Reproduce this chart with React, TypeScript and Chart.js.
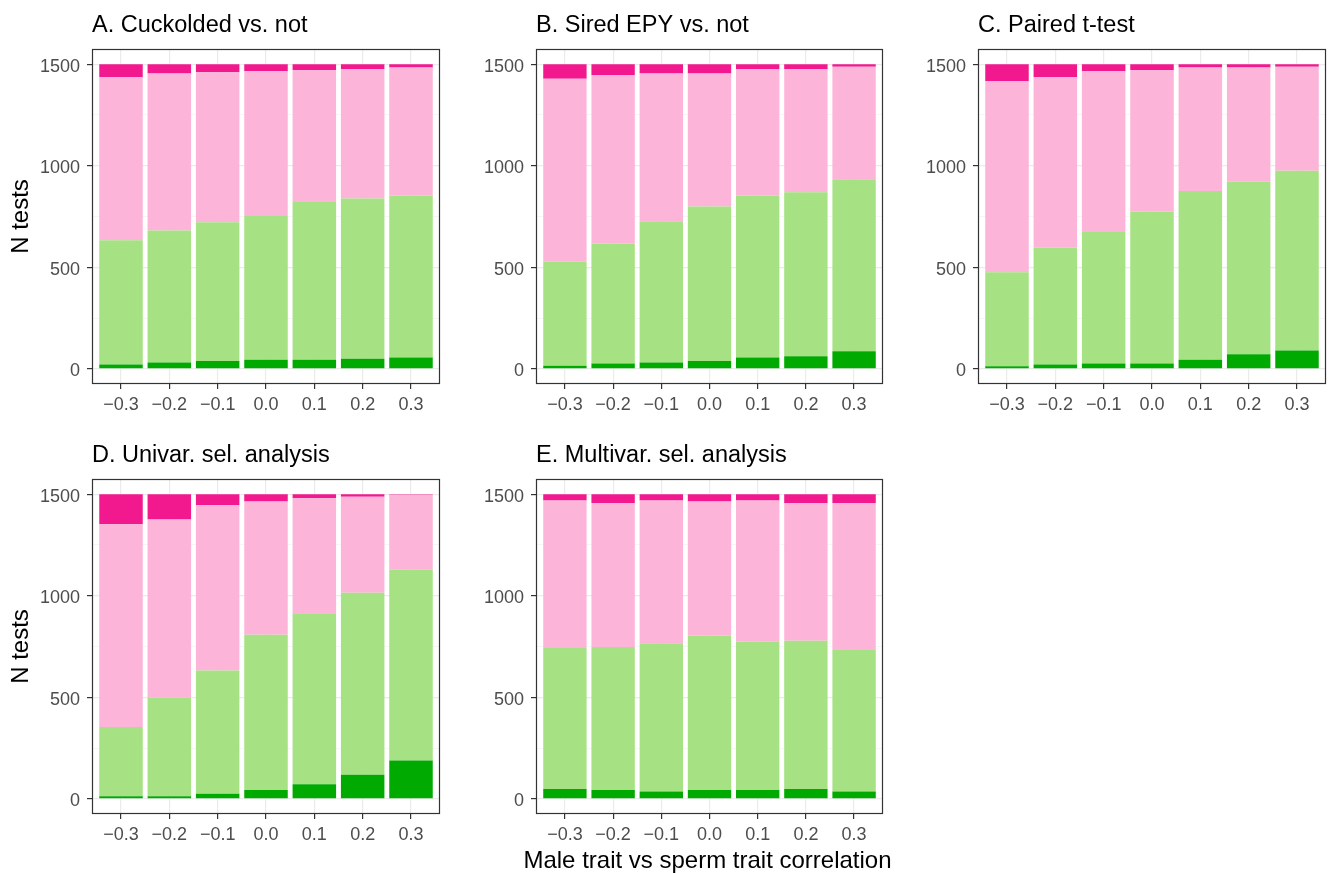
import React, { useEffect, useRef } from "react";
import { Chart, registerables } from "chart.js";

Chart.register(...registerables);

// ---------- data ----------
const corrLabels = ["\u22120.3", "\u22120.2", "\u22120.1", "0.0", "0.1", "0.2", "0.3"];
const yTickValues = [0, 250, 500, 750, 1000, 1250, 1500];
const seriesNames = ["Sig. positive", "N.s. positive", "N.s. negative", "Sig. negative"];
const seriesColors = ["#00AA00", "#A6E183", "#FDB4D9", "#F2188E"];
const xAxisTitle = "Male trait vs sperm trait correlation";
const yAxisTitle = "N tests";

// A. Cuckolded vs. not
const aSigPos = [21, 31, 38, 44, 44, 49, 56];
const aNsPos = [612, 650, 684, 708, 778, 790, 796];
const aNsNeg = [803, 773, 738, 713, 648, 638, 632];
const aSigNeg = [64, 46, 40, 35, 30, 23, 16];

// B. Sired EPY vs. not
const bSigPos = [15, 26, 31, 38, 56, 62, 86];
const bNsPos = [513, 591, 696, 761, 796, 808, 848];
const bNsNeg = [901, 830, 727, 655, 625, 607, 554];
const bSigNeg = [71, 53, 46, 46, 23, 23, 12];

// C. Paired t-test
const cSigPos = [13, 21, 26, 26, 44, 72, 90];
const cNsPos = [462, 576, 648, 749, 831, 851, 885];
const cNsNeg = [943, 839, 791, 697, 609, 561, 513];
const cSigNeg = [82, 64, 35, 28, 16, 16, 12];

// D. Univar. sel. analysis
const dSigPos = [13, 12, 25, 43, 72, 118, 189];
const dNsPos = [341, 485, 607, 765, 838, 897, 939];
const dNsNeg = [998, 878, 814, 656, 570, 472, 369];
const dSigNeg = [148, 125, 54, 36, 20, 13, 3];

// E. Multivar. sel. analysis
const eSigPos = [48, 43, 36, 43, 43, 48, 36];
const eNsPos = [695, 705, 730, 761, 732, 730, 701];
const eNsNeg = [726, 709, 703, 660, 694, 679, 720];
const eSigNeg = [31, 43, 31, 36, 31, 43, 43];

const FONT = '"Liberation Sans", Arial, Helvetica, sans-serif';

type PanelCfg = {
  title: string;
  series: number[][];
  left: number;
  top: number;
  w: number;
  h: number;
  yw: number;
  xh: number;
  padRight: number;
  yTitle: boolean;
  xTitle: boolean;
};

const panels: PanelCfg[] = [
  { title: "A. Cuckolded vs. not", series: [aSigPos, aNsPos, aNsNeg, aSigNeg], left: 0, top: 0, w: 446, h: 430, yw: 92, xh: 46, padRight: 6, yTitle: true, xTitle: false },
  { title: "B. Sired EPY vs. not", series: [bSigPos, bNsPos, bNsNeg, bSigNeg], left: 446, top: 0, w: 443, h: 430, yw: 90, xh: 46, padRight: 6, yTitle: false, xTitle: false },
  { title: "C. Paired t-test", series: [cSigPos, cNsPos, cNsNeg, cSigNeg], left: 889, top: 0, w: 440, h: 430, yw: 89, xh: 46, padRight: 3, yTitle: false, xTitle: false },
  { title: "D. Univar. sel. analysis", series: [dSigPos, dNsPos, dNsNeg, dSigNeg], left: 0, top: 430, w: 446, h: 443, yw: 92, xh: 59, padRight: 6, yTitle: true, xTitle: false },
  { title: "E. Multivar. sel. analysis", series: [eSigPos, eNsPos, eNsNeg, eSigNeg], left: 446, top: 430, w: 463, h: 443, yw: 90, xh: 59, padRight: 26, yTitle: false, xTitle: true },
];

const panelDecor = {
  id: "panelDecor",
  afterDraw(chart: any, _args: any, opts: any) {
    const { ctx, chartArea: a } = chart;
    ctx.save();
    ctx.strokeStyle = "#333333";
    ctx.lineWidth = 1.2;
    ctx.strokeRect(Math.round(a.left) + 0.5, Math.round(a.top) + 0.5, Math.round(a.right - a.left) - 1, Math.round(a.bottom - a.top) - 1);
    ctx.fillStyle = "#000000";
    ctx.font = `23.5px ${FONT}`;
    ctx.textAlign = "left";
    ctx.textBaseline = "alphabetic";
    ctx.fillText(opts.text, a.left, a.top - 17);
    if (opts.xTitle) {
      ctx.font = `24px ${FONT}`;
      ctx.textAlign = "center";
      ctx.fillText(opts.xTitle, (a.left + a.right) / 2 - 2, a.bottom + 54);
    }
    ctx.restore();
  },
};

const isMajor = (v: number) => v % 500 === 0;

function Panel({ cfg }: { cfg: PanelCfg }) {
  const ref = useRef<HTMLCanvasElement>(null);
  useEffect(() => {
    if (!ref.current) return;
    const chart = new Chart(ref.current, {
      type: "bar",
      data: {
        labels: corrLabels.map((_, i) => i),
        datasets: seriesNames.map((name, k) => ({
          label: name,
          data: cfg.series[k],
          backgroundColor: seriesColors[k],
          borderWidth: 0,
          barPercentage: 0.9,
          categoryPercentage: 1,
        })),
      },
      options: {
        responsive: false,
        animation: false,
        devicePixelRatio: 1,
        events: [],
        layout: { padding: { left: 0, top: 49, right: cfg.padRight, bottom: 0 } },
        plugins: {
          legend: { display: false },
          tooltip: { enabled: false },
          title: { display: false },
          panelDecor: { text: cfg.title, xTitle: cfg.xTitle ? xAxisTitle : "" },
        } as any,
        scales: {
          x: {
            type: "linear",
            stacked: true,
            offset: false,
            min: -0.6,
            max: 6.6,
            afterBuildTicks: (s: any) => {
              s.ticks = corrLabels.map((_, i) => ({ value: i }));
            },
            afterFit: (s: any) => {
              s.height = cfg.xh;
            },
            ticks: {
              callback: (v: any) => corrLabels[v] ?? "",
              color: "#4D4D4D",
              font: { family: FONT, size: 18 },
              padding: 5,
              maxRotation: 0,
              autoSkip: false,
            },
            grid: {
              offset: false,
              color: "#EBEBEB",
              lineWidth: 1.2,
              tickLength: 5,
              tickColor: "#333333",
              tickWidth: 1.2,
            },
            border: { display: false },
          },
          y: {
            stacked: true,
            min: -75,
            max: 1575,
            afterBuildTicks: (s: any) => {
              s.ticks = yTickValues.map((v) => ({ value: v }));
            },
            afterFit: (s: any) => {
              s.width = cfg.yw;
            },
            ticks: {
              callback: (v: any) => (isMajor(v) ? String(v) : ""),
              color: "#4D4D4D",
              font: { family: FONT, size: 18 },
              padding: 7,
              labelOffset: 2.5,
              autoSkip: false,
            },
            grid: {
              color: (c: any) => (c.tick && isMajor(c.tick.value) ? "#EBEBEB" : "#F2F2F2"),
              lineWidth: (c: any) => (c.tick && isMajor(c.tick.value) ? 1.2 : 0.7),
              tickLength: 5,
              tickColor: (c: any) => (c.tick && isMajor(c.tick.value) ? "#333333" : "rgba(0,0,0,0)"),
              tickWidth: 1.2,
            },
            border: { display: false },
            title: {
              display: cfg.yTitle,
              text: yAxisTitle,
              color: "#000000",
              font: { family: FONT, size: 24 },
              padding: { top: 7, bottom: 0 },
            },
          },
        },
      } as any,
      plugins: [panelDecor],
    });
    return () => chart.destroy();
  }, [cfg]);
  return (
    <canvas
      ref={ref}
      width={cfg.w}
      height={cfg.h}
      style={{ position: "absolute", left: cfg.left, top: cfg.top, width: cfg.w, height: cfg.h }}
    />
  );
}

export default function App() {
  return (
    <div style={{ position: "fixed", left: 0, top: 0, width: 1329, height: 873, background: "#FFFFFF", overflow: "hidden" }}>
      {panels.map((p) => (
        <Panel key={p.title} cfg={p} />
      ))}
    </div>
  );
}
